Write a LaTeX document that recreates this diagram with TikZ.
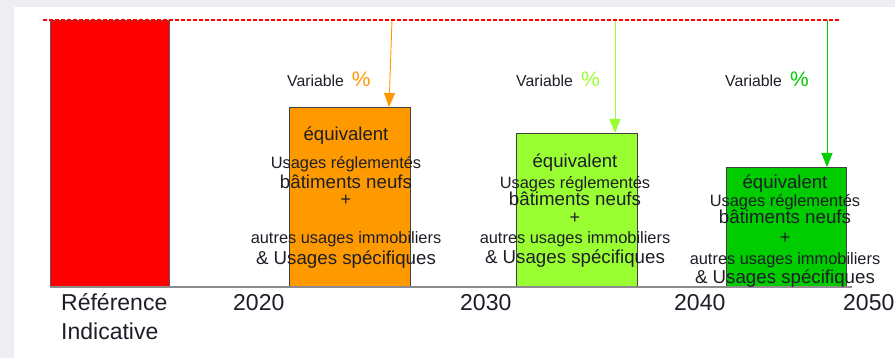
\documentclass[tikz,border=0pt]{standalone}
\usepackage{fontspec}
\setmainfont{Liberation Sans}
\usetikzlibrary{arrows.meta}
\definecolor{refred}   {RGB}{255,   0,   0}
\definecolor{orangebar}{RGB}{255, 153,   0}
\definecolor{limebar}  {RGB}{153, 255,  51}
\definecolor{greenbar} {RGB}{  0, 204,   0}
\definecolor{txtcol}   {RGB}{ 30,  30,  40}
\definecolor{pagegray} {RGB}{238, 238, 242}

\newcommand{\fsz}[1]{\fontsize{#1}{#1}\selectfont}

\begin{document}
\begin{tikzpicture}[x=1pt, y=-1pt,
  bar/.style={draw=black!75, line width=0.8pt, inner sep=0pt, outer sep=0pt,
              anchor=south west},
  txt/.style={inner sep=0pt, text=txtcol, anchor=base},
  year/.style={txt, anchor=base west, font=\fsz{23}},
  drop/.style={-{Triangle[length=14pt, width=11pt]}, line width=0.9pt},
]

% ── fond ──────────────────────────────────────────────
\fill[pagegray] (0,0) rectangle (895,358);
\fill[white] (14,7) rectangle (895,358);
\useasboundingbox (0,0) rectangle (895,358);

% ── barres ────────────────────────────────────────────
\node[bar, draw=black!65, fill=refred, minimum width=119pt, minimum height=267pt]
  (ref) at (50,287) {};
\node[bar, fill=orangebar, minimum width=121pt, minimum height=179pt]
  (b2020) at (289,286) {};
\node[bar, fill=limebar, minimum width=121pt, minimum height=153pt]
  (b2030) at (516,286) {};
\node[bar, fill=greenbar, minimum width=120pt, minimum height=119pt]
  (b2040) at (726,286) {};

% axe des temps
\coordinate (axend) at (852,287);
\draw[black!45, line width=1.4pt] (ref.south west) -- (axend);

% ── niveau de référence (pointillés) ──────────────────
\coordinate (lvl-l) at (43,20);
\coordinate (lvl-r) at (840,20);
\coordinate (top1) at (392,20);
\coordinate (top2) at (615,20);
\coordinate (top3) at (827,20);

% flèches de baisse
\draw[drop, orangebar] (top1) -- ([xshift=-3pt]top1 |- b2020.north);
\draw[drop, limebar]   (top2) -- (top2 |- b2030.north);
\draw[drop, greenbar]  (top3) -- (top3 |- b2040.north);

\draw[refred, line width=1.3pt, dash pattern=on 4pt off 2pt] (lvl-l) -- (lvl-r);

% étiquettes "Variable %"
\node[txt, anchor=base west, font=\fsz{15.8}] (var1) at (287,87)
  {Variable\hspace{8pt}{\color{orangebar}\fsz{21}\%}};
\node[txt, anchor=base west, font=\fsz{15.8}] (var2) at (516,87)
  {Variable\hspace{8pt}{\color{limebar}\fsz{21}\%}};
\node[txt, anchor=base west, font=\fsz{15.8}] (var3) at (725,87)
  {Variable\hspace{8pt}{\color{greenbar}\fsz{21}\%}};

% ── textes des barres ─────────────────────────────────
\foreach \n/\x/\ya/\yb/\yc/\yd/\ye/\yf in
  {o/346/141/169/189/206/244/265,
   l/575/168/189/206/224/244/264,
   g/785/189/207/224/244/265/284}{
  \node[txt, font=\fsz{18.6}] (\n-a) at (\x,\ya) {équivalent};
  \node[txt, font=\fsz{16.4}] (\n-b) at (\x,\yb) {Usages réglementés};
  \node[txt, font=\fsz{18.7}] (\n-c) at (\x,\yc) {bâtiments neufs};
  \node[txt, font=\fsz{18}]   (\n-d) at (\x,\yd) {+};
  \node[txt, font=\fsz{16.4}] (\n-e) at (\x,\ye) {autres usages immobiliers};
  \node[txt, font=\fsz{18.7}] (\n-f) at (\x,\yf) {\& Usages spécifiques};
}

% ── années ────────────────────────────────────────────
\node[year] (lab-ref) at (61,311) {Référence};
\node[year] (lab-ind) at (61,340) {Indicative};
\node[year] (y2020) at (233,311) {2020};
\node[year] (y2030) at (460,311) {2030};
\node[year] (y2040) at (674,311) {2040};
\node[year] (y2050) at (843,311) {2050};

\end{tikzpicture}
\end{document}
